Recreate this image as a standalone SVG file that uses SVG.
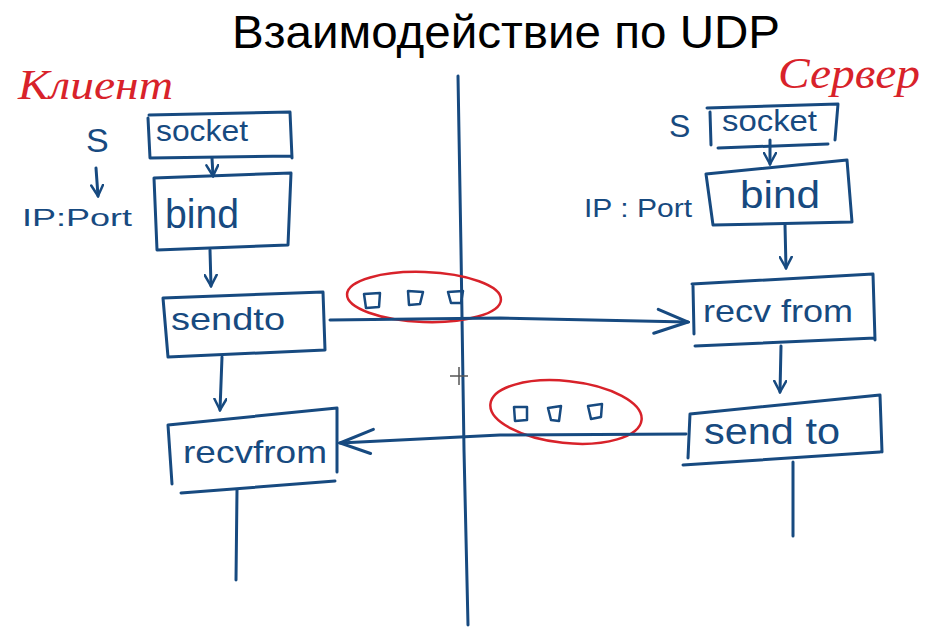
<svg xmlns="http://www.w3.org/2000/svg" width="941" height="642" viewBox="0 0 941 642">
<defs>
<style>
.ln{fill:none;stroke:#174a80;stroke-width:3;stroke-linecap:round;stroke-linejoin:round}
.rd{fill:none;stroke:#d8222a;stroke-width:2.5}
.ht{font-family:"Liberation Sans","DejaVu Sans",sans-serif;fill:#174a80}
.rt{font-family:"Liberation Serif","DejaVu Serif",serif;font-style:italic;fill:#d8222a}
.pk{fill:none;stroke:#174a80;stroke-width:2.5;stroke-linejoin:round}
</style>
<marker id="ah" markerWidth="14" markerHeight="14" refX="12" refY="7" orient="auto" markerUnits="userSpaceOnUse">
<path d="M1,1 L12,7 L1,13" fill="none" stroke="#174a80" stroke-width="2.5" stroke-linecap="round"/>
</marker>
<marker id="ahb" markerWidth="40" markerHeight="30" refX="38" refY="15" orient="auto" markerUnits="userSpaceOnUse">
<path d="M8,3 L38,15 L4,27" fill="none" stroke="#174a80" stroke-width="3" stroke-linecap="round"/>
</marker>
</defs>
<rect width="941" height="642" fill="#ffffff"/>
<text x="506" y="48" text-anchor="middle" font-family="Liberation Sans, Arial, sans-serif" font-size="47" textLength="548" lengthAdjust="spacingAndGlyphs" fill="#000">Взаимодействие по UDP</text>

<text class="rt" x="18" y="99" font-size="42" textLength="155" lengthAdjust="spacingAndGlyphs">Клиент</text>
<text class="rt" x="778" y="88" font-size="44" textLength="142" lengthAdjust="spacingAndGlyphs">Сервер</text>

<g id="divider"><path class="ln" d="M458,76 L461,250 L464,450 L468,625"/></g>
<g id="cursor"><path d="M450,376 L468,376 M459,367 L459,385" stroke="#555" stroke-width="1.5"/></g>

<g id="client-socket">
<path class="ln" d="M149,115 L290,112 L292,158 M148,118 L150,158 L292,156"/>
<text class="ht" x="156" y="141" font-size="30" textLength="92" lengthAdjust="spacingAndGlyphs">socket</text>
</g>
<g id="client-s"><text class="ht" x="86" y="152" font-size="34">S</text></g>
<g id="client-ipport"><text class="ht" x="22" y="226" font-size="24" textLength="110" lengthAdjust="spacingAndGlyphs">IP:Port</text></g>
<g id="client-bind">
<path class="ln" d="M154,178 L291,173 L288,245 L157,250 Z"/>
<text class="ht" x="165" y="228" font-size="40" textLength="74" lengthAdjust="spacingAndGlyphs">bind</text>
</g>
<g id="client-sendto">
<path class="ln" d="M163,298 L323,292 L325,350 L168,357 Z"/>
<text class="ht" x="171" y="330" font-size="32" textLength="114" lengthAdjust="spacingAndGlyphs">sendto</text>
</g>
<g id="client-recvfrom">
<path class="ln" d="M168,425 L337,408 L337,472 M168,425 L172,484 M181,493 L335,481"/>
<text class="ht" x="183" y="463" font-size="32" textLength="144" lengthAdjust="spacingAndGlyphs">recvfrom</text>
</g>

<g id="server-socket">
<path class="ln" d="M707,108 L838,104 L835,140 M710,112 L711,145 M718,148 L828,144"/>
<text class="ht" x="722" y="131" font-size="30" textLength="95" lengthAdjust="spacingAndGlyphs">socket</text>
</g>
<g id="server-s"><text class="ht" x="669" y="137" font-size="32">S</text></g>
<g id="server-ipport"><text class="ht" x="584" y="217" font-size="26" textLength="108" lengthAdjust="spacingAndGlyphs">IP : Port</text></g>
<g id="server-bind">
<path class="ln" d="M706,174 L847,160 L852,222 L713,225 Z"/>
<text class="ht" x="740" y="208" font-size="38" textLength="80" lengthAdjust="spacingAndGlyphs">bind</text>
</g>
<g id="server-recvfrom">
<path class="ln" d="M692,284 L873,274 L875,340 M693,286 L694,334 M695,346 L875,338"/>
<text class="ht" x="703" y="322" font-size="32" textLength="150" lengthAdjust="spacingAndGlyphs">recv from</text>
</g>
<g id="server-sendto">
<path class="ln" d="M690,414 L880,395 L882,452 M690,414 L688,458 M683,465 L880,452"/>
<text class="ht" x="704" y="444" font-size="36" textLength="136" lengthAdjust="spacingAndGlyphs">send to</text>
</g>

<g id="packets">
<ellipse class="rd" cx="424" cy="297" rx="77" ry="25" transform="rotate(2 424 297)"/>
<path class="pk" d="M364,294 L380,293 L379,307 L366,308 Z M408,291 L423,292 L420,304 L409,305 Z M448,292 L463,291 L461,303 L451,303 Z"/>
<ellipse class="rd" cx="566" cy="412" rx="76" ry="31" transform="rotate(6 566 412)"/>
<path class="pk" d="M514,407 L527,407 L527,420 L515,421 Z M548,408 L561,406 L559,421 L551,420 Z M588,406 L602,404 L601,417 L591,419 Z"/>
</g>

<g id="connectors">
<path class="ln" marker-end="url(#ah)" d="M212,158 L213,176"/>
<path class="ln" marker-end="url(#ah)" d="M96,168 L98,196"/>
<path class="ln" marker-end="url(#ah)" d="M210,250 L211,286"/>
<path class="ln" marker-end="url(#ah)" d="M222,357 L220,410"/>
<path class="ln" d="M237,490 L236,580"/>
<path class="ln" marker-end="url(#ahb)" d="M330,320 L500,318 L688,322"/>
<path class="ln" marker-end="url(#ahb)" d="M686,434 L500,435 L340,443"/>
<path class="ln" marker-end="url(#ah)" d="M770,140 L770,164"/>
<path class="ln" marker-end="url(#ah)" d="M785,225 L786,268"/>
<path class="ln" marker-end="url(#ah)" d="M781,346 L780,392"/>
<path class="ln" d="M793,462 L793,536"/>
</g>
</svg>
